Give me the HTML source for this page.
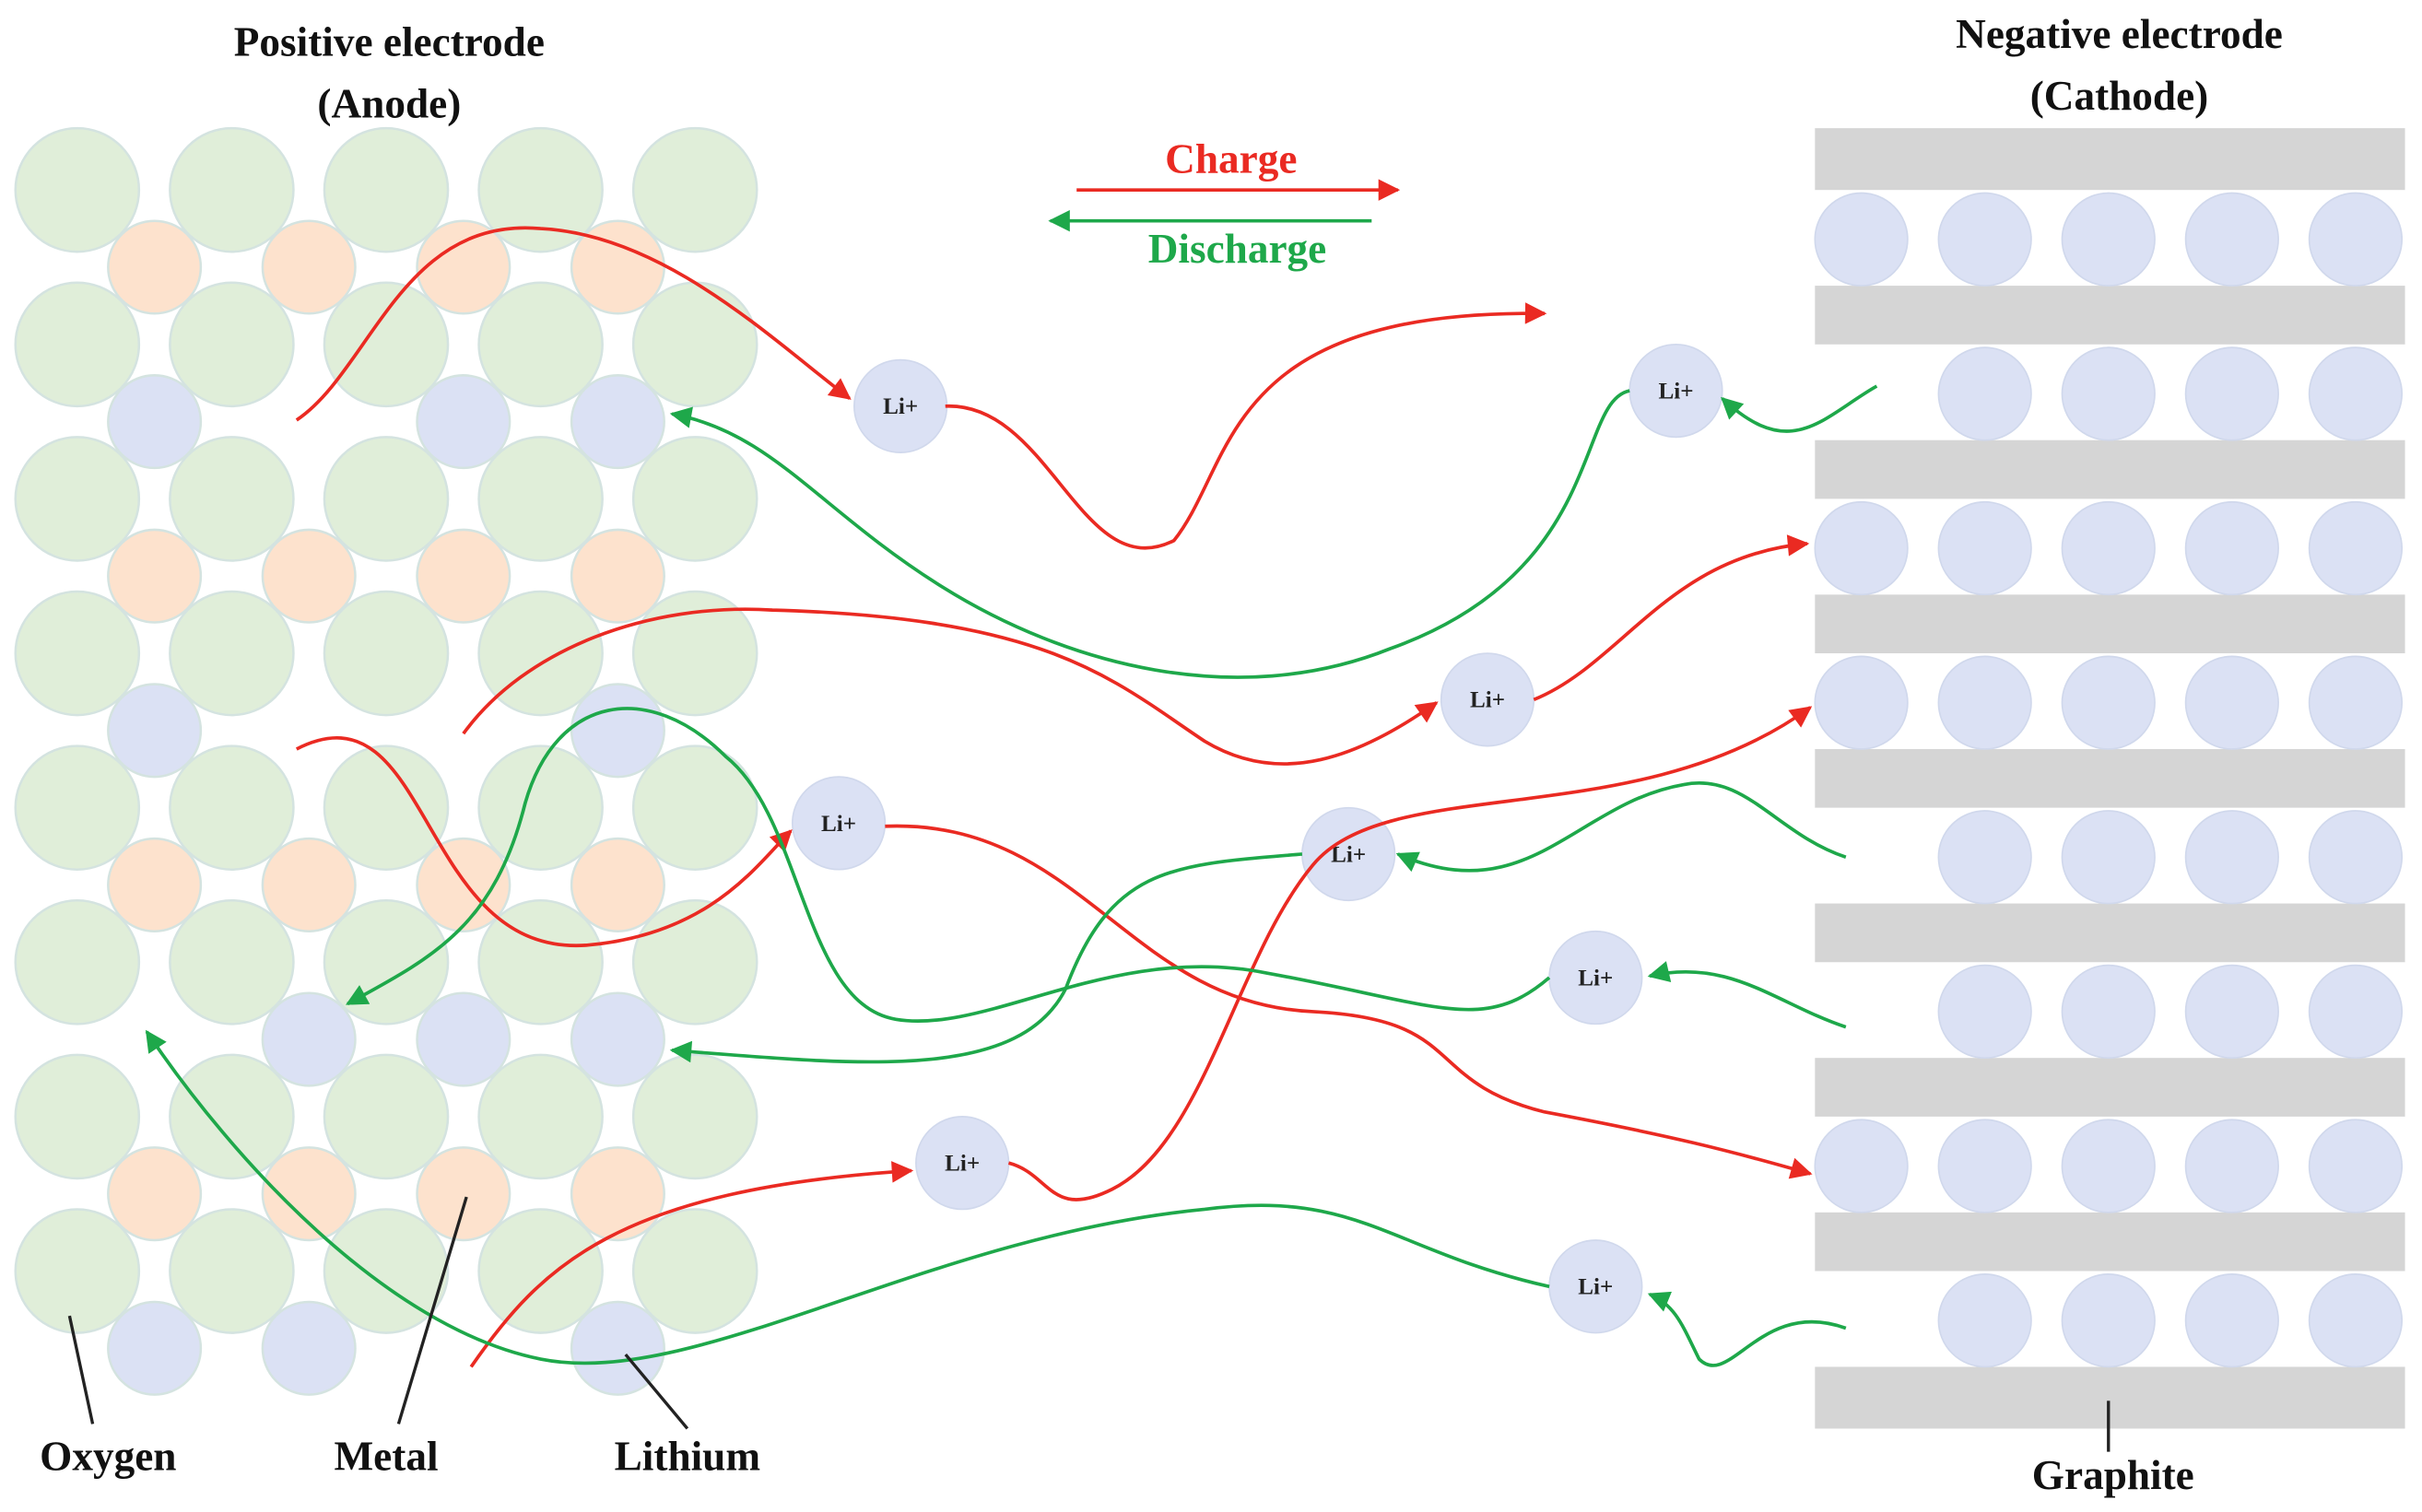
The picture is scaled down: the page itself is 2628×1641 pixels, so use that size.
<!DOCTYPE html>
<html><head><meta charset="utf-8"><style>html,body{margin:0;padding:0;background:#fff}svg{display:block}</style></head>
<body>
<svg width="2628" height="1641" viewBox="0 0 1568 979" preserveAspectRatio="none" xmlns="http://www.w3.org/2000/svg">
<defs>
<marker id="ar" markerWidth="10" markerHeight="10" refX="8" refY="5" orient="auto" markerUnits="userSpaceOnUse"><path d="M0,0 L16,5 L0,10 z" fill="#ea2a22" transform="scale(0.6,1)"/></marker>
<marker id="ag" markerWidth="10" markerHeight="10" refX="8" refY="5" orient="auto" markerUnits="userSpaceOnUse"><path d="M0,0 L16,5 L0,10 z" fill="#1ea84a" transform="scale(0.6,1)"/></marker>
<marker id="ar2" viewBox="0 0 10 10" refX="9" refY="5" markerWidth="18" markerHeight="14" orient="auto" markerUnits="userSpaceOnUse"><path d="M0,0 L10,5 L0,10 z" fill="#ea2a22"/></marker>
<marker id="ag2" viewBox="0 0 10 10" refX="9" refY="5" markerWidth="18" markerHeight="14" orient="auto" markerUnits="userSpaceOnUse"><path d="M0,0 L10,5 L0,10 z" fill="#1ea84a"/></marker>
</defs>
<g stroke="#d4e3e0" stroke-width="1.5">
<g fill="#e0eed9">
<circle cx="50" cy="123" r="40"/><circle cx="150" cy="123" r="40"/><circle cx="250" cy="123" r="40"/><circle cx="350" cy="123" r="40"/><circle cx="450" cy="123" r="40"/>
<circle cx="50" cy="223" r="40"/><circle cx="150" cy="223" r="40"/><circle cx="250" cy="223" r="40"/><circle cx="350" cy="223" r="40"/><circle cx="450" cy="223" r="40"/>
<circle cx="50" cy="323" r="40"/><circle cx="150" cy="323" r="40"/><circle cx="250" cy="323" r="40"/><circle cx="350" cy="323" r="40"/><circle cx="450" cy="323" r="40"/>
<circle cx="50" cy="423" r="40"/><circle cx="150" cy="423" r="40"/><circle cx="250" cy="423" r="40"/><circle cx="350" cy="423" r="40"/><circle cx="450" cy="423" r="40"/>
<circle cx="50" cy="523" r="40"/><circle cx="150" cy="523" r="40"/><circle cx="250" cy="523" r="40"/><circle cx="350" cy="523" r="40"/><circle cx="450" cy="523" r="40"/>
<circle cx="50" cy="623" r="40"/><circle cx="150" cy="623" r="40"/><circle cx="250" cy="623" r="40"/><circle cx="350" cy="623" r="40"/><circle cx="450" cy="623" r="40"/>
<circle cx="50" cy="723" r="40"/><circle cx="150" cy="723" r="40"/><circle cx="250" cy="723" r="40"/><circle cx="350" cy="723" r="40"/><circle cx="450" cy="723" r="40"/>
<circle cx="50" cy="823" r="40"/><circle cx="150" cy="823" r="40"/><circle cx="250" cy="823" r="40"/><circle cx="350" cy="823" r="40"/><circle cx="450" cy="823" r="40"/>
</g>
<g fill="#fde2cd">
<circle cx="100" cy="173" r="30"/><circle cx="200" cy="173" r="30"/><circle cx="300" cy="173" r="30"/><circle cx="400" cy="173" r="30"/>
<circle cx="100" cy="373" r="30"/><circle cx="200" cy="373" r="30"/><circle cx="300" cy="373" r="30"/><circle cx="400" cy="373" r="30"/>
<circle cx="100" cy="573" r="30"/><circle cx="200" cy="573" r="30"/><circle cx="300" cy="573" r="30"/><circle cx="400" cy="573" r="30"/>
<circle cx="100" cy="773" r="30"/><circle cx="200" cy="773" r="30"/><circle cx="300" cy="773" r="30"/><circle cx="400" cy="773" r="30"/>
</g>
<g fill="#dbe1f4">
<circle cx="100" cy="273" r="30"/><circle cx="300" cy="273" r="30"/><circle cx="400" cy="273" r="30"/>
<circle cx="100" cy="473" r="30"/><circle cx="400" cy="473" r="30"/>
<circle cx="200" cy="673" r="30"/><circle cx="300" cy="673" r="30"/><circle cx="400" cy="673" r="30"/>
<circle cx="100" cy="873" r="30"/><circle cx="200" cy="873" r="30"/><circle cx="400" cy="873" r="30"/>
</g>
</g>
<g fill="#d5d5d5">
<rect x="1175" y="83" width="382" height="40"/><rect x="1175" y="185" width="382" height="38"/><rect x="1175" y="285" width="382" height="38"/><rect x="1175" y="385" width="382" height="38"/><rect x="1175" y="485" width="382" height="38"/><rect x="1175" y="585" width="382" height="38"/><rect x="1175" y="685" width="382" height="38"/><rect x="1175" y="785" width="382" height="38"/><rect x="1175" y="885" width="382" height="40"/>
</g>
<g fill="#dbe1f4" stroke="#d0d8ec" stroke-width="1">
<circle cx="1205" cy="155" r="30"/><circle cx="1285" cy="155" r="30"/><circle cx="1365" cy="155" r="30"/><circle cx="1445" cy="155" r="30"/><circle cx="1525" cy="155" r="30"/>
<circle cx="1285" cy="255" r="30"/><circle cx="1365" cy="255" r="30"/><circle cx="1445" cy="255" r="30"/><circle cx="1525" cy="255" r="30"/>
<circle cx="1205" cy="355" r="30"/><circle cx="1285" cy="355" r="30"/><circle cx="1365" cy="355" r="30"/><circle cx="1445" cy="355" r="30"/><circle cx="1525" cy="355" r="30"/>
<circle cx="1205" cy="455" r="30"/><circle cx="1285" cy="455" r="30"/><circle cx="1365" cy="455" r="30"/><circle cx="1445" cy="455" r="30"/><circle cx="1525" cy="455" r="30"/>
<circle cx="1285" cy="555" r="30"/><circle cx="1365" cy="555" r="30"/><circle cx="1445" cy="555" r="30"/><circle cx="1525" cy="555" r="30"/>
<circle cx="1285" cy="655" r="30"/><circle cx="1365" cy="655" r="30"/><circle cx="1445" cy="655" r="30"/><circle cx="1525" cy="655" r="30"/>
<circle cx="1205" cy="755" r="30"/><circle cx="1285" cy="755" r="30"/><circle cx="1365" cy="755" r="30"/><circle cx="1445" cy="755" r="30"/><circle cx="1525" cy="755" r="30"/>
<circle cx="1285" cy="855" r="30"/><circle cx="1365" cy="855" r="30"/><circle cx="1445" cy="855" r="30"/><circle cx="1525" cy="855" r="30"/>
</g>
<g fill="#dbe1f4" stroke="#d0d8ec">
<circle cx="583" cy="263" r="30"/><circle cx="1085" cy="253" r="30"/><circle cx="963" cy="453" r="30"/><circle cx="543" cy="533" r="30"/><circle cx="873" cy="553" r="30"/><circle cx="1033" cy="633" r="30"/><circle cx="623" cy="753" r="30"/><circle cx="1033" cy="833" r="30"/>
</g>
<g font-family="Liberation Serif, serif" font-weight="bold" font-size="15" text-anchor="middle" fill="#222">
<text x="583" y="268">Li+</text><text x="1085" y="258">Li+</text><text x="963" y="458">Li+</text><text x="543" y="538">Li+</text><text x="873" y="558">Li+</text><text x="1033" y="638">Li+</text><text x="623" y="758">Li+</text><text x="1033" y="838">Li+</text>
</g>
<g fill="none" stroke="#ea2a22" stroke-width="2.2" marker-end="url(#ar2)">
<path d="M192,272 C240,240 260,140 350,148 C430,152 500,220 550,258"/>
<path d="M612,263 C680,260 700,380 760,350 C800,300 790,200 1000,203"/>
<path d="M300,475 C340,420 420,390 500,395 C680,400 720,440 780,480 C830,510 880,490 930,455"/>
<path d="M993,453 C1050,430 1080,360 1170,352"/>
<path d="M192,485 C280,440 270,620 380,612 C460,605 490,560 512,538"/>
<path d="M573,535 C700,530 730,650 850,655 C950,660 920,700 1000,720 C1080,735 1120,745 1172,760"/>
<path d="M305,885 C350,820 400,770 590,758"/>
<path d="M653,753 C680,760 680,790 720,770 C780,740 800,620 850,560 C900,500 1060,540 1172,458"/>
<path d="M697,123 L905,123"/>
</g>
<g fill="none" stroke="#1ea84a" stroke-width="2.2" marker-end="url(#ag2)">
<path d="M1215,250 C1180,270 1160,300 1115,258"/>
<path d="M1055,253 C1020,260 1040,370 900,420 C800,460 690,430 610,380 C530,330 500,280 435,268"/>
<path d="M1195,555 C1150,540 1130,500 1090,508 C1020,520 990,590 905,553"/>
<path d="M843,553 C760,560 720,560 690,640 C660,700 560,690 435,680"/>
<path d="M1003,633 C960,670 930,650 820,630 C720,610 640,670 580,660 C520,650 520,530 470,490 C420,440 360,450 340,520 C320,600 280,620 225,650"/>
<path d="M1195,665 C1150,650 1120,620 1068,632"/>
<path d="M1195,860 C1140,840 1120,900 1100,880 C1090,860 1085,845 1068,838"/>
<path d="M1003,833 C900,810 880,770 780,783 C600,800 450,900 350,880 C250,860 150,750 95,668"/>
<path d="M888,143 L680,143"/>
</g>
<g stroke="#222" stroke-width="2">
<line x1="60" y1="922" x2="45" y2="852"/><line x1="258" y1="922" x2="302" y2="775"/><line x1="445" y1="925" x2="405" y2="877"/><line x1="1365" y1="907" x2="1365" y2="940"/>
</g>
<g font-family="Liberation Serif, serif" font-weight="bold" font-size="27" text-anchor="middle" fill="#111">
<text x="252" y="36">Positive electrode</text><text x="252" y="76">(Anode)</text>
<text x="1372" y="31">Negative electrode</text><text x="1372" y="71">(Cathode)</text>
<text x="70" y="952">Oxygen</text><text x="250" y="952">Metal</text><text x="445" y="952">Lithium</text><text x="1368" y="964">Graphite</text>
<text x="797" y="112" fill="#ea2a22">Charge</text><text x="801" y="170" fill="#1ea84a">Discharge</text>
</g>
</svg>
</body></html>
